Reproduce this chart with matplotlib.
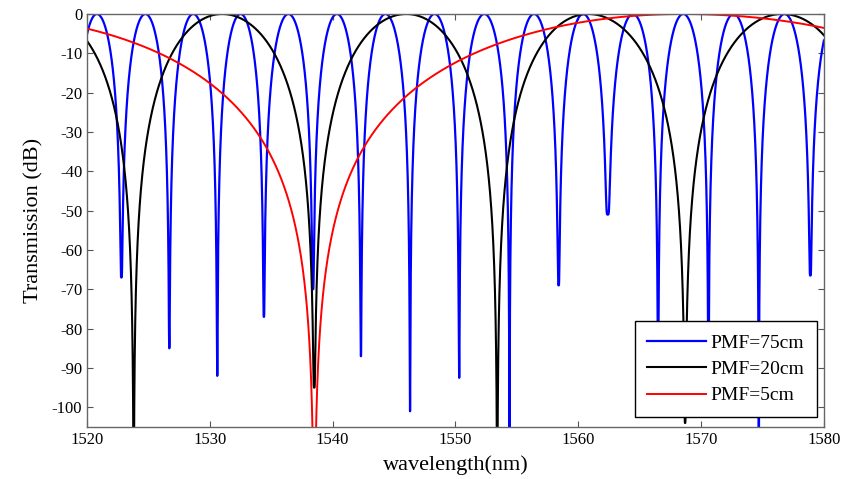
import numpy as np
import matplotlib
matplotlib.use("Agg")
import matplotlib.pyplot as plt

plt.rcParams['font.family'] = ['Liberation Serif', 'DejaVu Serif']
plt.rcParams['axes.unicode_minus'] = False

# notch / peak wavelengths (nm) and notch depths (dB)
blue_notch = [1518.9, 1522.8, 1526.7, 1530.6, 1534.4, 1538.4, 1542.3, 1546.3,
              1550.3, 1554.4, 1558.4, 1562.4, 1566.5, 1570.6, 1574.7, 1578.9]
blue_depth = [-70, -67, -85, -92, -77, -70, -87, -101,
              -92.5, -120, -69, -51, -90, -95, -120, -66.5]
blue_peak = [1520.8, 1524.75, 1528.65, 1532.5, 1536.4, 1540.35, 1544.3, 1548.3,
             1552.35, 1556.4, 1560.4, 1564.45, 1568.55, 1572.65, 1576.8, 1581.0]

black_notch = [1523.8, 1538.5, 1553.4, 1568.7, 1584.5]
black_depth = [-130, -95, -130, -104, -100]
black_peak = [1516.5, 1531.0, 1546.0, 1560.8, 1576.6]

red_notch = [1538.5, 1601.0]
red_depth = [-140, -100]
red_peak = [1509.5, 1568.5]

labels = ['PMF=75cm', 'PMF=20cm', 'PMF=5cm']
colors = ['#0000ff', '#000000', '#ff0000']

wl = np.linspace(1520, 1580, 60001)


def transmission(notch, depth, peak):
    # phase is 0 at a notch, pi/2 at a peak, piecewise between the read extrema
    pts = sorted([(x, 0) for x in notch] + [(x, 1) for x in peak])
    xs = [p[0] for p in pts]
    start = 0.0 if pts[0][1] == 0 else np.pi / 2
    ph = start + np.arange(len(xs)) * np.pi / 2
    phase = np.interp(wl, xs, ph)
    idx = np.abs(wl[:, None] - np.array(notch)[None, :]).argmin(axis=1)
    floor = 10 ** (np.array(depth)[idx] / 10)
    return 10 * np.log10(np.abs(np.sin(phase)) ** 5 + floor)


curves = [transmission(blue_notch, blue_depth, blue_peak),
          transmission(black_notch, black_depth, black_peak),
          transmission(red_notch, red_depth, red_peak)]

fig = plt.figure(figsize=(8.45, 4.79), dpi=100)
ax = fig.add_axes([0.103, 0.1086, 0.872, 0.8622])

lws = [1.6, 1.5, 1.4]
for y, c, lab, lw in zip(curves, colors, labels, lws):
    ax.plot(wl, y, color=c, lw=lw, label=lab)

ax.set_xlim(1520, 1580)
ax.set_ylim(-105, 0)
ax.set_xticks(np.arange(1520, 1581, 10))
ax.set_yticks(np.arange(-100, 1, 10))
ax.tick_params(direction='in', top=True, right=True, labelsize=12, length=4,
               color='#555555')
for s in ax.spines.values():
    s.set_color('#666666')
    s.set_linewidth(1.0)

ax.set_xlabel('wavelength(nm)', fontsize=16, labelpad=5)
ax.set_ylabel('Transmission (dB)', fontsize=16, labelpad=6)

leg = ax.legend(loc='lower right', bbox_to_anchor=(0.9905, 0.0242), fontsize=14,
                fancybox=False, edgecolor='black', framealpha=1,
                borderaxespad=0, handlelength=3.0, handletextpad=0.25,
                borderpad=0.65, labelspacing=0.45)
leg.get_frame().set_linewidth(1.0)

fig.savefig('out.png', dpi=100)
